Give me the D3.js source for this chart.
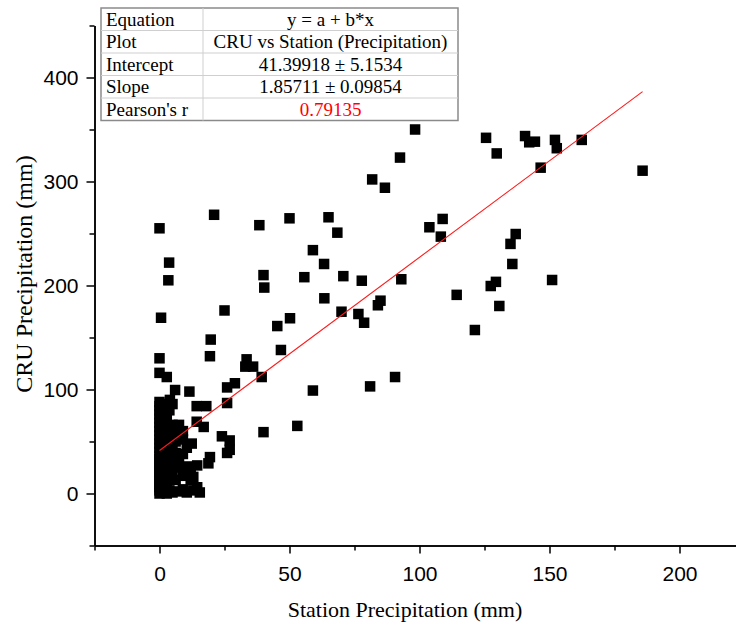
<!DOCTYPE html>
<html>
<head>
<meta charset="utf-8">
<title>CRU vs Station precipitation</title>
<script src="https://d3js.org/d3.v7.min.js"></script>
<style>
body {margin:0; background:#fff;}
#chart {display:block;}
.tick text {font-family:"Liberation Sans", Arial, sans-serif; font-size:21px; fill:#000;}
.axis path, .axis line {stroke:#000; stroke-width:1.5px;}
.title {font-family:"Liberation Serif", "Times New Roman", serif; font-size:22px; fill:#000;}
.ytitle {font-size:24px;}
.tbl {font-family:"Liberation Serif", "Times New Roman", serif; font-size:19px; fill:#000;}
</style>
</head>
<body>
<svg id="chart" width="736" height="628"></svg>
<script>
// station precipitation (mm) -- scattered points
var stationScatter = [0, 21, 3.7, 3.4, 25, 0.6, 19.7, 19.4, 0, 33.5, 33, 36, 39.3, 29, 26, 46.7, 59, 81, 90.6, 53,
  40, 0, 2.8, 6, 11.5, 26, 14.3, 18, 4, 14.3, 17, 12.4, 24, 27, 19.4, 26, 18.8, 27, 38.4, 50,
  65, 68.4, 59, 63.3, 40, 40.3, 55.7, 70.7, 77.8, 93, 63.4, 70, 76.5, 78.7, 85, 84, 50.2, 45.3, 98.3, 92.5,
  81.8, 86.7, 125.6, 129.7, 140.6, 142.2, 144.4, 152.1, 152.8, 162.4, 146.6, 185.8, 108.9, 103.8, 108.2, 137, 135, 135.7, 114.3, 129.4,
  127.4, 130.7, 151, 121.3];
// CRU precipitation (mm) -- scattered points
var cruScatter = [255, 268, 222, 205, 176, 169, 148, 132, 130, 129, 122, 122, 112, 106, 102, 138, 99, 103, 112, 65,
  59, 116, 112, 99.5, 98, 87, 84, 84, 90, 69, 64, 48, 55, 51, 35, 39, 29, 42, 258, 264.6,
  265.6, 250.8, 234, 220.7, 210, 198, 208, 209, 204.6, 206, 187.7, 174.8, 172.6, 164.2, 185.4, 181, 168.5, 161, 350, 323,
  302, 294, 342, 327, 343.7, 337.7, 338.3, 340, 332, 340, 313.3, 310.4, 264, 256, 247, 249.5, 240, 220.7, 191, 203.5,
  199.5, 180.3, 205.3, 157.2];

// dense group near the origin
var stationCluster = [0, 0, 0, 0, 0, 0, 0, 0, 0, 0, 0, 0, 0, 0, 0, 0, 0, 0, 0, 0, 0, 0, 0, 0, 0, 0,
  0.5, 0.5, 0.5, 0.5, 0.5, 0.5, 0.5, 0.5,
  1.2, 1.2, 1.2, 1.2, 1.2, 1.2, 1.2, 1.2, 1.2,
  2, 2, 2, 2, 2, 2, 2,
  2.8, 2.8, 2.8, 2.8, 2.8, 2.8, 2.8, 2.8,
  3.8, 3.8, 3.8, 3.8, 3.8, 3.8, 3.8,
  5, 5, 5, 5, 5, 5, 5,
  6.2, 6.2, 6.2, 6.2, 6.2,
  7.5, 7.5, 7.5, 7.5, 7.5,
  9, 9, 9, 9, 9,
  10.5, 10.5, 10.5, 12, 12, 13, 13, 14.5, 14.5, 15.5];
var cruCluster = [0, 3, 6, 9, 12, 15, 18, 21, 24, 27, 30, 33, 36, 40, 44, 48, 52, 56, 60, 64, 68, 72, 76, 80, 84, 88,
  2, 10, 20, 34, 46, 58, 70, 82,
  1, 5, 13, 25, 38, 50, 62, 75, 86,
  4, 16, 29, 42, 55, 66, 79,
  0, 9, 22, 33, 48, 60, 72, 85,
  3, 14, 27, 40, 52, 63, 80,
  1, 20, 35, 44, 57, 66, 86,
  13, 28, 39, 50, 62,
  2, 25, 33, 56, 66,
  4, 17, 38, 52, 60,
  1, 26, 44, 22, 13, 16, 3, 6, 27, 1];

var xMajor = [0, 50, 100, 150, 200];
var xMinor = [-25, 25, 75, 125, 175];
var yMajor = [0, 100, 200, 300, 400];
var yMinor = [-50, 50, 150, 250, 350, 450];

var tableLabels = ["Equation", "Plot", "Intercept", "Slope", "Pearson's r"];
var tableValues = ["y = a + b*x", "CRU vs Station (Precipitation)", "41.39918 \u00b1 5.1534", "1.85711 \u00b1 0.09854", "0.79135"];
var intercept = 41.39918, slope = 1.85711;

var stationAll = stationScatter.concat(stationCluster);
var cruAll = cruScatter.concat(cruCluster);
var points = stationAll.map(function(v, i) { return {x: v, y: cruAll[i]}; });

var svg = d3.select("#chart");
var x = d3.scaleLinear().domain([-25, 225]).range([94.5, 744.5]);
var y = d3.scaleLinear().domain([-50, 450]).range([545.5, 25.5]);

// axes
svg.append("g").attr("class", "axis").attr("transform", "translate(0," + y(-50) + ")")
  .call(d3.axisBottom(x).tickValues(xMajor).tickSize(8).tickPadding(13).tickSizeOuter(0).tickFormat(d3.format("d")));
svg.append("g").attr("class", "axis").attr("transform", "translate(0," + y(-50) + ")")
  .call(d3.axisBottom(x).tickValues(xMinor).tickSize(5).tickSizeOuter(0).tickFormat(""));
svg.append("g").attr("class", "axis").attr("transform", "translate(" + x(-25) + ",0)")
  .call(d3.axisLeft(y).tickValues(yMajor).tickSize(8).tickPadding(8).tickSizeOuter(0).tickFormat(d3.format("d")));
svg.append("g").attr("class", "axis").attr("transform", "translate(" + x(-25) + ",0)")
  .call(d3.axisLeft(y).tickValues(yMinor).tickSize(5).tickSizeOuter(0).tickFormat(""));

// titles
svg.append("text").attr("class", "title").attr("x", 405).attr("y", 617).attr("text-anchor", "middle")
  .text("Station Precipitation (mm)");
svg.append("text").attr("class", "title ytitle").attr("text-anchor", "middle")
  .attr("transform", "translate(32,274) rotate(-90)").text("CRU Precipitation (mm)");

// points
var sz = 10.5;
svg.append("g").selectAll("rect").data(points).join("rect")
  .attr("x", function(d) { return x(d.x) - sz / 2; })
  .attr("y", function(d) { return y(d.y) - sz / 2; })
  .attr("width", sz).attr("height", sz).attr("fill", "#000");

// fit line
var xMax = d3.max(stationAll);
svg.append("line")
  .attr("x1", x(0)).attr("y1", y(intercept))
  .attr("x2", x(xMax)).attr("y2", y(intercept + slope * xMax))
  .attr("stroke", "#ff1a1a").attr("stroke-width", 1.1);

// stats table
var tx = 101, ty = 8, tw = 357, rh = 22.5, split = 203;
var tbl = svg.append("g");
tbl.append("rect").attr("x", tx).attr("y", ty).attr("width", tw).attr("height", rh * 5)
  .attr("fill", "#fff").attr("stroke", "#8a8a8a").attr("stroke-width", 1.5);
tbl.selectAll("line.row").data(d3.range(1, 5)).join("line").attr("class", "row")
  .attr("x1", tx).attr("x2", tx + tw).attr("y1", function(i) { return ty + i * rh; }).attr("y2", function(i) { return ty + i * rh; })
  .attr("stroke", "#cfcfcf").attr("stroke-width", 1);
tbl.append("line").attr("x1", split).attr("x2", split).attr("y1", ty).attr("y2", ty + rh * 5)
  .attr("stroke", "#cfcfcf").attr("stroke-width", 1);
tbl.selectAll("text.lab").data(tableLabels).join("text").attr("class", "tbl lab")
  .attr("x", tx + 5).attr("y", function(d, i) { return ty + i * rh + 17.5; }).text(function(d) { return d; });
tbl.selectAll("text.val").data(tableValues).join("text").attr("class", "tbl val")
  .attr("x", (split + tx + tw) / 2).attr("y", function(d, i) { return ty + i * rh + 17.5; })
  .attr("text-anchor", "middle")
  .style("fill", function(d, i) { return i === 4 ? "#ff0000" : "#000"; })
  .text(function(d) { return d; });
</script>
</body>
</html>
